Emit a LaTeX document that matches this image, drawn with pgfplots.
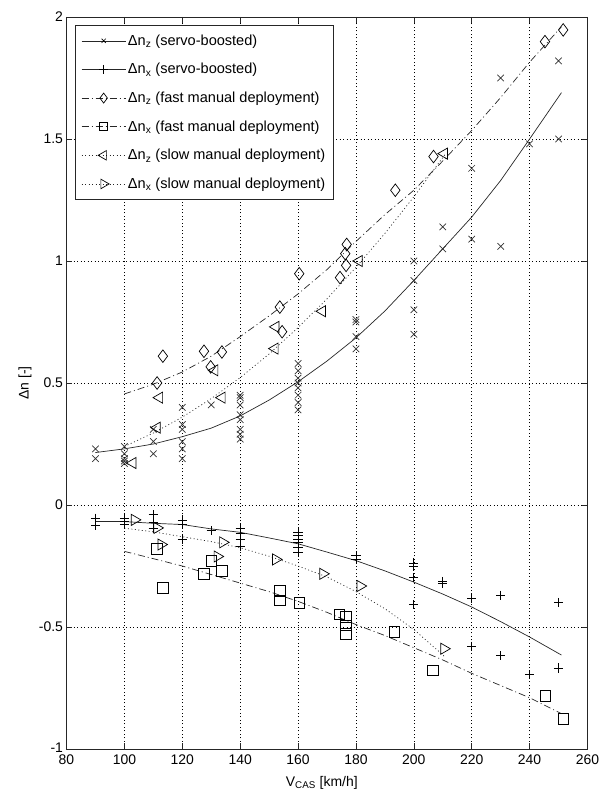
\documentclass[border=0pt]{standalone}
\usepackage{fontspec}
\setmainfont{Liberation Sans}
\usepackage{pgfplots}
\pgfplotsset{compat=1.18}
\usetikzlibrary{calc}

\pgfplotstableread{
x y
90 0.23
90 0.19
100 0.24
100 0.21
100 0.19
100 0.18
100 0.17
110 0.26
110 0.21
110 0.31
120 0.40
120 0.33
120 0.31
120 0.26
120 0.23
120 0.19
130 0.41
140 0.45
140 0.44
140 0.41
140 0.37
140 0.35
140 0.31
140 0.29
140 0.27
160 0.58
160 0.55
160 0.52
160 0.50
160 0.48
160 0.45
160 0.42
160 0.39
180 0.76
180 0.75
180 0.69
180 0.64
200 1.00
200 0.92
200 0.80
200 0.70
210 1.14
210 1.05
220 1.38
220 1.09
230 1.75
230 1.06
240 1.48
250 1.82
250 1.50
}\servoz

\pgfplotstableread{
x y
90 -0.054
90 -0.084
100 -0.053
100 -0.065
100 -0.078
110 -0.040
110 -0.071
110 -0.094
120 -0.061
120 -0.078
120 -0.142
130 -0.105
140 -0.094
140 -0.116
140 -0.139
140 -0.170
160 -0.112
160 -0.125
160 -0.139
160 -0.153
160 -0.173
160 -0.193
180 -0.207
180 -0.221
200 -0.238
200 -0.252
200 -0.298
200 -0.409
210 -0.313
210 -0.323
220 -0.381
220 -0.579
230 -0.370
230 -0.618
240 -0.696
250 -0.400
250 -0.668
}\servox

\pgfplotstableread{
x y
111.3 0.500
113.3 0.610
127.5 0.630
129.8 0.566
133.7 0.627
153.7 0.811
154.5 0.710
160.4 0.948
174.5 0.932
176.6 0.982
176.3 1.030
176.8 1.068
193.6 1.290
206.8 1.428
245.3 1.899
251.6 1.947
}\fastz

\pgfplotstableread{
x y
111.3 -0.180
113.3 -0.339
127.5 -0.282
130.0 -0.230
133.7 -0.271
153.7 -0.353
153.7 -0.391
160.4 -0.402
174.3 -0.448
176.6 -0.459
176.6 -0.493
176.6 -0.527
193.2 -0.520
206.6 -0.678
245.4 -0.781
251.6 -0.877
}\fastx

\pgfplotstableread{
x y
102.9 0.172
111.3 0.317
112.1 0.440
131.2 0.552
133.7 0.440
152.0 0.641
152.3 0.730
168.4 0.794
181.1 1.000
210.5 1.440
}\slowz

\pgfplotstableread{
x y
103.5 -0.061
111.3 -0.094
112.7 -0.162
132.1 -0.211
134.0 -0.153
152.3 -0.223
168.6 -0.282
181.5 -0.332
210.4 -0.589
}\slowx

\pgfplotstableread{
x y
90 0.215
100 0.230
110 0.250
120 0.280
130 0.315
140 0.365
150 0.430
160 0.505
170 0.590
180 0.685
190 0.795
200 0.920
210 1.050
220 1.180
230 1.330
240 1.500
251 1.690
}\fitservoz

\pgfplotstableread{
x y
90 -0.068
100 -0.068
110 -0.075
120 -0.080
130 -0.098
140 -0.112
150 -0.135
160 -0.159
170 -0.193
180 -0.228
190 -0.270
200 -0.316
210 -0.365
220 -0.418
230 -0.478
240 -0.541
251 -0.615
}\fitservox

\pgfplotstableread{
x y
100 0.455
110 0.495
120 0.545
130 0.610
140 0.690
150 0.775
160 0.865
170 0.965
180 1.080
190 1.190
200 1.290
210 1.410
220 1.535
230 1.670
240 1.815
251 1.960
}\fitfastz

\pgfplotstableread{
x y
100 -0.190
110 -0.220
120 -0.250
130 -0.285
140 -0.320
150 -0.355
160 -0.395
170 -0.440
180 -0.490
190 -0.535
200 -0.585
210 -0.635
220 -0.690
230 -0.740
240 -0.790
251 -0.855
}\fitfastx

\pgfplotstableread{
x y
100 0.240
110 0.295
120 0.360
130 0.436
140 0.522
150 0.619
160 0.727
170 0.845
180 0.974
190 1.113
200 1.263
211 1.440
}\fitslowz

\pgfplotstableread{
x y
100 -0.095
110 -0.110
120 -0.130
130 -0.150
140 -0.175
150 -0.210
160 -0.250
170 -0.295
180 -0.355
190 -0.425
200 -0.510
211 -0.625
}\fitslowx

\begin{document}
\begin{tikzpicture}
\begin{axis}[
  scale only axis, width=521bp, height=732bp,
  xmin=80, xmax=260, ymin=-1, ymax=2,
  xtick={80,100,...,260},
  xticklabels={80,100,120,140,160,180,200,220,240,260},
  ytick={-1,-0.5,0,0.5,1,1.5,2},
  yticklabels={\raisebox{3bp}{-1},-0.5,0,0.5,1,1.5,2},
  tick align=inside, tick pos=both,
  major tick length=6bp,
  grid=major,
  major grid style={black, line width=0.5bp, dash pattern=on 1bp off 2.5bp},
  axis line style={black!85, line width=0.8bp},
  tick style={black!85, line width=0.6bp},
  ticklabel style={font=\fontsize{14}{16}\selectfont},
  xticklabel style={yshift=-2bp},
  label style={font=\fontsize{14}{16}\selectfont},
  xlabel={V\textsubscript{CAS} [km/h]},
  ylabel={Δn [-]},
  ylabel style={at={(axis description cs:-0.0797,0.5)}, anchor=center},
  xlabel style={at={(axis description cs:0.49,-0.046)}, anchor=center},
  legend cell align=left,
  legend image code/.code={\draw[mark repeat=2,mark phase=2,#1] plot coordinates {(0bp,0bp)(22bp,0bp)(44bp,0bp)};},
  legend style={at={(rel axis cs:0.0163,0.989)}, anchor=north west,
    draw=black!85, line width=0.6bp, fill=white,
    font=\fontsize{14.6}{16}\selectfont, row sep=12.6bp, inner xsep=6bp, inner ysep=7.5bp},
]
% fit lines
\addplot[forget plot, black!85, line width=0.7bp, solid] table {\fitservoz};
\addplot[forget plot, black!85, line width=0.7bp, solid] table {\fitservox};
\addplot[forget plot, black!85, line width=0.7bp, dash pattern=on 7bp off 3bp on 1bp off 3bp] table {\fitfastz};
\addplot[forget plot, black!85, line width=0.7bp, dash pattern=on 7bp off 3bp on 1bp off 3bp] table {\fitfastx};
\addplot[forget plot, black!85, line width=0.7bp, dash pattern=on 1bp off 2.5bp] table {\fitslowz};
\addplot[forget plot, black!85, line width=0.7bp, dash pattern=on 1bp off 2.5bp] table {\fitslowx};
% data
\addplot[forget plot, only marks, mark=x, mark size=4.6bp, mark options={black!80, line width=0.7bp}] table {\servoz};
\addplot[forget plot, only marks, mark=+, mark size=4.6bp, mark options={black, line width=0.7bp}] table {\servox};
\addplot[forget plot, only marks, mark=diamond, mark size=6.3bp, mark options={black, line width=0.7bp}] table {\fastz};
\addplot[forget plot, only marks, mark=square, mark size=5.3bp, mark options={black, line width=0.7bp}] table {\fastx};
\addplot[forget plot, only marks, mark=triangle, mark size=6.4bp, mark options={black, line width=0.7bp, rotate=90}] table {\slowz};
\addplot[forget plot, only marks, mark=triangle, mark size=6.4bp, mark options={black, line width=0.7bp, rotate=-90}] table {\slowx};
% legend
\addlegendimage{black!85, line width=0.7bp, solid, mark=x, mark size=3bp, mark options={black, solid}}
\addlegendentry{Δn\textsubscript{z} (servo-boosted)}
\addlegendimage{black!85, line width=0.7bp, solid, mark=+, mark size=4.5bp, mark options={black, solid}}
\addlegendentry{Δn\textsubscript{x} (servo-boosted)}
\addlegendimage{black!85, line width=0.7bp, dash pattern=on 7bp off 3bp on 1bp off 3bp, mark=diamond, mark size=5bp, mark options={black, solid}}
\addlegendentry{Δn\textsubscript{z} (fast manual deployment)}
\addlegendimage{black!85, line width=0.7bp, dash pattern=on 7bp off 3bp on 1bp off 3bp, mark=square, mark size=4bp, mark options={black, solid}}
\addlegendentry{Δn\textsubscript{x} (fast manual deployment)}
\addlegendimage{black!85, line width=0.7bp, dash pattern=on 1bp off 2.5bp, mark=triangle, mark size=5.5bp, mark options={black, solid, rotate=90}}
\addlegendentry{Δn\textsubscript{z} (slow manual deployment)}
\addlegendimage{black!85, line width=0.7bp, dash pattern=on 1bp off 2.5bp, mark=triangle, mark size=5.5bp, mark options={black, solid, rotate=-90}}
\addlegendentry{Δn\textsubscript{x} (slow manual deployment)}
\end{axis}
\pgfresetboundingbox
\path[use as bounding box] ($(current axis.south west)+(-66.5bp,-44bp)$) rectangle ($(current axis.north east)+(18.5bp,17bp)$);
\end{tikzpicture}
\end{document}
